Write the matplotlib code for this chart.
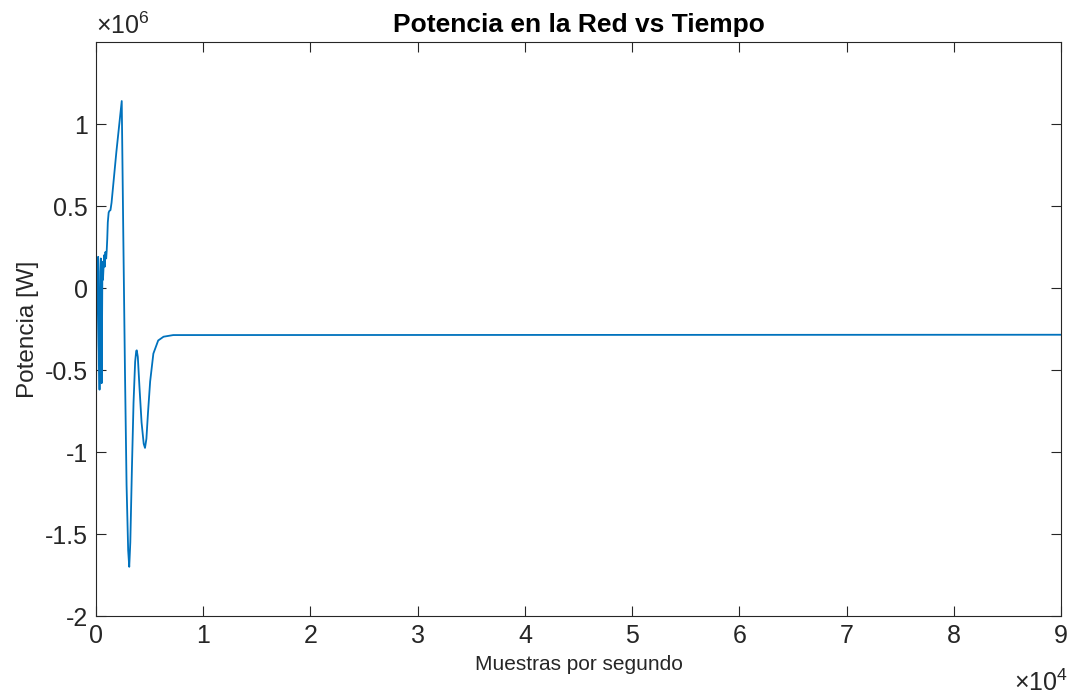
import matplotlib
matplotlib.use("Agg")
import matplotlib.pyplot as plt
from matplotlib.ticker import FuncFormatter

plt.rcParams['font.family'] = ['Liberation Sans', 'DejaVu Sans']
plt.rcParams['mathtext.fontset'] = 'custom'
plt.rcParams['mathtext.rm'] = 'Liberation Sans'
plt.rcParams['axes.unicode_minus'] = False

# Potencia en la red (W) vs sample index
samples = [0, 100, 200, 260, 330, 400, 450, 530, 600, 650, 700, 760, 820,
           880, 950, 1000, 1050, 1100, 1180, 1250, 1350, 1450, 1900, 2400,
           2550, 2700, 2850, 3000, 3100, 3200, 3350, 3500, 3650, 3750, 3800,
           3900, 4050, 4250, 4450, 4570, 4700, 4850, 5050, 5350, 5800, 6300,
           7200, 90000]
power = [-0.63e6, 0.05e6, 0.19e6, -0.35e6, -0.62e6, 0.10e6, 0.18e6, -0.58e6,
         0.16e6, 0.05e6, 0.12e6, 0.20e6, 0.13e6, 0.22e6, 0.18e6, 0.23e6,
         0.30e6, 0.40e6, 0.46e6, 0.47e6, 0.475e6, 0.52e6, 0.83e6, 1.14e6,
         0.30e6, -0.50e6, -1.20e6, -1.60e6, -1.70e6, -1.55e6, -1.10e6,
         -0.70e6, -0.45e6, -0.385e6, -0.38e6, -0.42e6, -0.60e6, -0.82e6,
         -0.95e6, -0.975e6, -0.92e6, -0.76e6, -0.57e6, -0.40e6, -0.32e6,
         -0.297e6, -0.287e6, -0.285e6]

xticks = [0, 1e4, 2e4, 3e4, 4e4, 5e4, 6e4, 7e4, 8e4, 9e4]
yticks = [-2e6, -1.5e6, -1e6, -0.5e6, 0, 0.5e6, 1e6]

axis_gray = (0.15, 0.15, 0.15)

fig = plt.figure(figsize=(10.75, 6.98), dpi=100)
ax = fig.add_axes([96 / 1075, 82 / 698, 965 / 1075, 574 / 698])

ax.plot(samples, power, color='#0072BD', linewidth=1.3)

ax.set_xlim(0, 9e4)
ax.set_ylim(-2e6, 1.5e6)
ax.set_xticks(xticks)
ax.set_yticks(yticks)

# MATLAB-style labels: value scaled by the exponent shown at the axis end
ax.xaxis.set_major_formatter(FuncFormatter(lambda v, p: f"{v / 1e4:g}"))
ax.yaxis.set_major_formatter(FuncFormatter(lambda v, p: f"{v / 1e6:g}"))

ax.tick_params(direction='in', length=7, width=0.8, top=True, right=True,
               labelsize=18, colors=axis_gray, pad=6)
for spine in ax.spines.values():
    spine.set_color(axis_gray)
    spine.set_linewidth(0.8)

ax.text(0.0, 1.014, r"$\times\mathregular{10^{6}}$", transform=ax.transAxes,
        ha='left', va='baseline', fontsize=18, color=axis_gray)
ax.text(1.007, -0.13, r"$\times\mathregular{10^{4}}$", transform=ax.transAxes,
        ha='right', va='baseline', fontsize=18, color=axis_gray)

ax.set_title("Potencia en la Red vs Tiempo", fontsize=19, fontweight='bold', pad=7)
ax.set_xlabel("Muestras por segundo", fontsize=15, color=axis_gray, labelpad=5)
ax.set_ylabel("Potencia [W]", fontsize=17.5, color=axis_gray, labelpad=4)

fig.savefig("out.png", dpi=100)
